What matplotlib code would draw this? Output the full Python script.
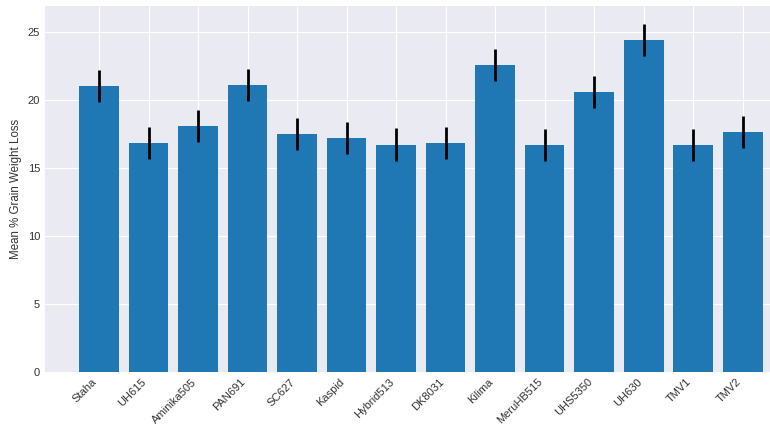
import matplotlib
matplotlib.use("Agg")
import matplotlib.pyplot as plt
import numpy as np

plt.style.use('seaborn-v0_8-darkgrid')
plt.rcParams['font.family'] = ['Liberation Sans', 'DejaVu Sans']

varieties = ["Staha", "UH615", "Aminika505", "PAN691", "SC627", "Kaspid", "Hybrid513",
             "DK8031", "Kilima", "MeruHB515", "UHS5350", "UH630", "TMV1", "TMV2"]
means = [21.08, 16.86, 18.09, 21.13, 17.53, 17.25, 16.74,
         16.86, 22.61, 16.69, 20.60, 24.47, 16.69, 17.70]
errors = [1.18, 1.18, 1.19, 1.19, 1.18, 1.17, 1.19,
          1.18, 1.17, 1.18, 1.16, 1.18, 1.18, 1.18]

fig = plt.figure(figsize=(7.7, 4.26), dpi=100)
ax = fig.add_axes([45/770, 54/426, 1 - 45/770, 366/426])
x = np.arange(len(varieties))
ax.bar(x, means, width=0.8, color='#1f77b4', yerr=errors,
       error_kw=dict(ecolor='black', elinewidth=2, capsize=0))
ax.set_xticks(x)
ax.set_xticklabels(varieties, rotation=45, ha='right', fontsize=8, color='#333333')
ax.tick_params(axis='y', labelsize=8, labelcolor='#333333')
ax.set_ylabel("Mean % Grain Weight Loss", fontsize=8.3, color='#333333')
ax.set_xlim(-1.09, 13.55)
ax.set_ylim(0, 26.95)
fig.savefig("out.png", dpi=100)
